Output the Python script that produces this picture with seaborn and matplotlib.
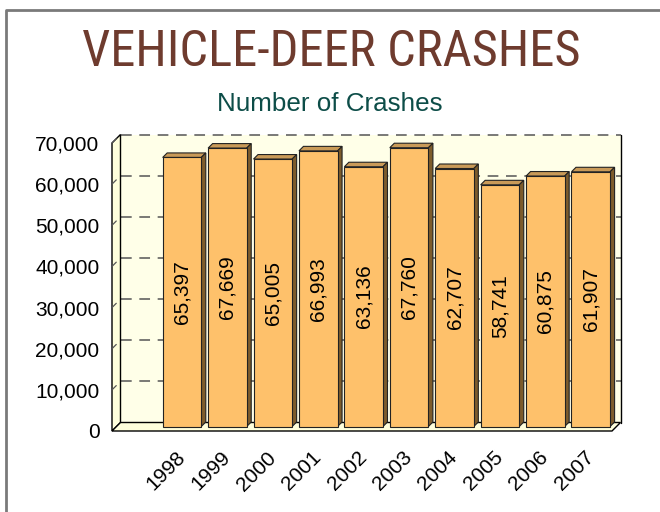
import matplotlib
matplotlib.use("Agg")
import matplotlib.pyplot as plt
import matplotlib.patches as mpatches
import matplotlib.lines as mlines
from matplotlib import font_manager as fm
import seaborn as sns

years = ["1998", "1999", "2000", "2001", "2002", "2003", "2004", "2005", "2006", "2007"]
crashes = [65397, 67669, 65005, 66993, 63136, 67760, 62707, 58741, 60875, 61907]
yticks = [0, 10000, 20000, 30000, 40000, 50000, 60000, 70000]

title = "VEHICLE-DEER CRASHES"
subtitle = "Number of Crashes"

sns.set_theme(style="white")
plt.rcParams['font.family'] = ['Liberation Sans', 'DejaVu Sans']

W, H, DPI = 660, 512, 100
fig = plt.figure(figsize=(W / DPI, H / DPI), dpi=DPI)
fig.patch.set_facecolor("white")

# candidate narrow sans faces (regular weight) for the title
cands = []
for f in fm.fontManager.ttflist:
    n = f.name.lower()
    st = str(f.stretch)
    w = f.weight
    regular = w in (400, "normal", "regular", "book")
    narrowish = ("narrow" in n or "condensed" in n or "condensed" in st)
    if narrowish and regular and "mono" not in n and "serif" not in n and f.style == "normal":
        key = (f.name, st)
        if key not in cands:
            cands.append(key)
grotesk = [c for c in cands if any(k in c[0].lower() for k in
                                   ("liberation", "arimo", "nimbus", "roboto", "helvet", "arial"))]
pool = grotesk if grotesk else cands
best = ("Liberation Sans", "normal")
best_err = None
for name, st in pool:
    tt = fig.text(0, 0, title, fontsize=36, family=[name], fontstretch=st)
    fig.canvas.draw()
    wpx = tt.get_window_extent().width
    tt.remove()
    err = abs(wpx - 495.0)
    if best_err is None or err < best_err:
        best_err, best = err, (name, st)

# figure border
fig.add_artist(mlines.Line2D([6 / W, 6 / W, 1.0], [0.0, 1 - 10 / H, 1 - 10 / H],
                             transform=fig.transFigure, color="#7a7a7a", lw=2))

# axes = front plane of 3D box
L, R, T, B = 112, 612, 143, 431
ax = fig.add_axes([L / W, 1 - B / H, (R - L) / W, (B - T) / H])
ax.set_facecolor("none")

front_col = "#FEC16B"
top_col = "#C99A58"
side_col = "#7D5C2C"
wall_col = "#FFFFE8"
wall_col2 = "#FFFFDC"

sns.barplot(x=years, y=crashes, color=front_col, saturation=1, width=0.85,
            edgecolor="#222222", linewidth=0.8, ax=ax, zorder=5)

x0l, x1l = -1.541, 9.467
ax.set_xlim(x0l, x1l)
ax.set_ylim(0, 70000)

pxx = (R - L) / (x1l - x0l)          # px per category unit
pxy = (B - T) / 70000.0              # px per value unit
D = 8.5
dxd, dyd = D / pxx, D / pxy          # wall depth in data units
bd = 4.5
bdx, bdy = bd / pxx, bd / pxy        # bar depth in data units

# walls
ax.add_patch(mpatches.Rectangle((x0l + dxd, dyd), x1l - x0l, 70000, facecolor=wall_col,
                                edgecolor="none", zorder=0, clip_on=False))
ax.add_patch(mpatches.Polygon([(x0l, 0), (x0l + dxd, dyd), (x0l + dxd, 70000 + dyd), (x0l, 70000)],
                              closed=True, facecolor=wall_col2, edgecolor="black", lw=1,
                              zorder=1, clip_on=False))
ax.add_patch(mpatches.Polygon([(x0l, 0), (x1l, 0), (x1l + dxd, dyd), (x0l + dxd, dyd)],
                              closed=True, facecolor=wall_col2, edgecolor="black", lw=1,
                              zorder=1, clip_on=False))
ax.plot([x1l + dxd, x1l + dxd], [dyd, 70000 + dyd], color="black", lw=1, zorder=1, clip_on=False)
for v in yticks[1:]:
    ax.plot([x0l + dxd, x1l + dxd], [v + dyd, v + dyd], color="#555555", lw=1.1,
            ls=(0, (7, 5)), zorder=0.5, clip_on=False)
    ax.plot([x0l, x0l + dxd * 0.5], [v, v + dyd * 0.5], color="#555555", lw=0.9,
            zorder=2, clip_on=False)

bars = [p for p in ax.patches if isinstance(p, mpatches.Rectangle) and p.get_zorder() == 5]
for p, v in zip(bars, crashes):
    p.set_y(bdy)
    xa = p.get_x()
    xb = xa + p.get_width()
    top = bdy + v
    ax.add_patch(mpatches.Polygon([(xa, top), (xb, top), (xb + bdx, top + bdy), (xa + bdx, top + bdy)],
                                  closed=True, facecolor=top_col, edgecolor="#222222", lw=0.8,
                                  zorder=4, clip_on=False))
    ax.add_patch(mpatches.Polygon([(xb, bdy), (xb + bdx, 2 * bdy), (xb + bdx, top + bdy), (xb, top)],
                                  closed=True, facecolor=side_col, edgecolor="#222222", lw=0.8,
                                  zorder=4, clip_on=False))
    ax.text((xa + xb) / 2, bdy + v / 2, f"{v:,}", rotation=90, ha="center", va="center",
            fontsize=15, color="black", zorder=6)

ax.set_yticks(yticks)
ax.set_yticklabels([f"{v:,}" for v in yticks], fontsize=15, color="black")
ax.tick_params(axis="y", length=0, pad=9)
ax.tick_params(axis="x", length=0, pad=17, labelsize=15, labelcolor="black")
plt.setp(ax.get_xticklabels(), rotation=45, ha="right", va="center", rotation_mode="anchor")
ax.set_xlabel("")
ax.set_ylabel("")
for s in ax.spines.values():
    s.set_visible(False)

tfam = [best[0], "Liberation Sans"]
t = fig.text(331 / W, 1 - 66 / H, title, ha="center", va="baseline", fontsize=36,
             color="#6E3B2E", family=tfam, fontstretch=best[1])
fig.canvas.draw()
wpx = t.get_window_extent().width
if wpx > 0:
    t.set_fontsize(36 * 498.0 / wpx)

fig.text(330 / W, 1 - 111 / H, subtitle, ha="center", va="baseline", fontsize=18.7,
         color="#0D4D48", family=["Liberation Sans"])

fig.savefig("out.png", dpi=DPI)
